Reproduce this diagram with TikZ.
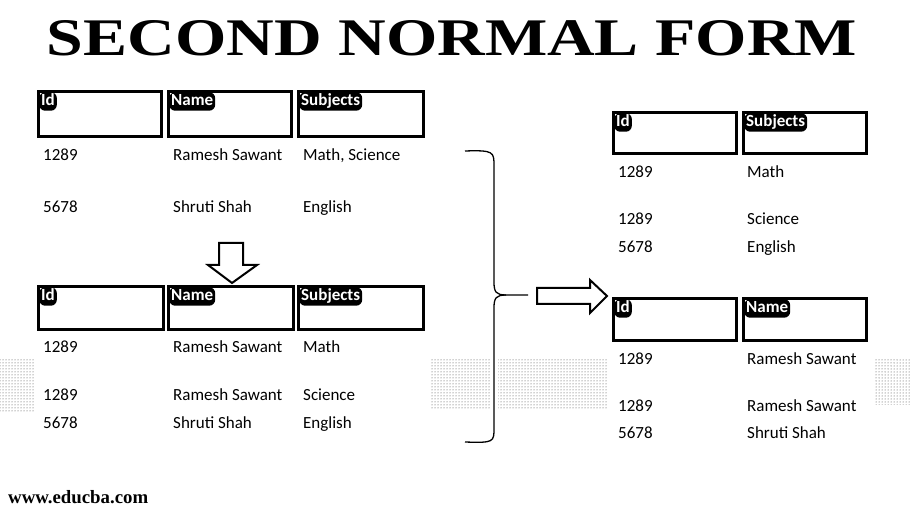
\documentclass[tikz,border=0pt]{standalone}
\usepackage{fontspec}
\setmainfont{Carlito}
\newfontfamily\titlefont{Liberation Serif}
\usetikzlibrary{patterns}
\tikzset{
  hbox/.style={draw=black, line width=3pt},
  hdr/.style={fill=black, text=white, rounded corners=6pt, inner xsep=2pt, inner ysep=2pt,
              text height=11pt, text depth=3.5pt, anchor=north west,
              font=\fontsize{17}{17}\selectfont\bfseries},
  cell/.style={anchor=base west, inner sep=0pt, font=\fontsize{17}{17}\selectfont},
  fat/.style={draw=black, line width=2pt, fill=white, line join=miter},
  dotpatch/.style={pattern=dots, pattern color=black!75}
}
\begin{document}
\begin{tikzpicture}[x=1pt,y=-1pt]
\useasboundingbox (0,0) rectangle (911,510);
\fill[white] (0,0) rectangle (911,510);
% dotted patches
\fill[dotpatch] (0,360) rectangle (35,412);
\fill[dotpatch] (430,360) rectangle (490,410);
\fill[dotpatch] (498,360) rectangle (607,410);
\fill[dotpatch] (874,360) rectangle (911,405);
% title
\node[inner sep=0pt] (title) at (452,38) {\titlefont\bfseries\resizebox{810pt}{35pt}{SECOND NORMAL FORM}};
% table 1
\draw[hbox] (38.5,91.5) rectangle (161.5,136.5);
\draw[hbox] (168.5,91.5) rectangle (291.5,136.5);
\draw[hbox] (298.5,91.5) rectangle (423.5,136.5);
\node[hdr] (t1h1) at (39,92) {Id};
\node[hdr] (t1h2) at (169,92) {Name};
\node[hdr] (t1h3) at (299,92) {Subjects};
\node[cell] (t1a1) at (43,160.5) {1289};
\node[cell] (t1a2) at (173,160.5) {Ramesh Sawant};
\node[cell] (t1a3) at (303,160.5) {Math, Science};
\node[cell] (t1b1) at (43,212.5) {5678};
\node[cell] (t1b2) at (173,212.5) {Shruti Shah};
\node[cell] (t1b3) at (303,212.5) {English};
% down arrow
\draw[fat] (219,243) -- (243,243) -- (243,265) -- (257,265) -- (232,283) -- (208,265) -- (219,265) -- cycle;
% table 2
\draw[hbox] (38.5,286.5) rectangle (163.5,329.5);
\draw[hbox] (168.5,286.5) rectangle (293.5,329.5);
\draw[hbox] (298.5,286.5) rectangle (423.5,329.5);
\node[hdr] (t2h1) at (39,287) {Id};
\node[hdr] (t2h2) at (169,287) {Name};
\node[hdr] (t2h3) at (299,287) {Subjects};
\node[cell] (t2a1) at (43,352.5) {1289};
\node[cell] (t2a2) at (173,352.5) {Ramesh Sawant};
\node[cell] (t2a3) at (303,352.5) {Math};
\node[cell] (t2b1) at (43,400.5) {1289};
\node[cell] (t2b2) at (173,400.5) {Ramesh Sawant};
\node[cell] (t2b3) at (303,400.5) {Science};
\node[cell] (t2c1) at (43,428.5) {5678};
\node[cell] (t2c2) at (173,428.5) {Shruti Shah};
\node[cell] (t2c3) at (303,428.5) {English};
% brace
\draw[line width=1.3pt] (465,151) .. controls (494,150) and (494,152) .. (494,166)
  -- (494,282) .. controls (494,292) and (496,295) .. (506,295) -- (528,295);
\draw[line width=1.3pt] (506,295) .. controls (496,295) and (494,298) .. (494,308)
  -- (494,428) .. controls (494,442) and (494,443) .. (465,442);
% right arrow
\draw[fat] (537,288) -- (590,288) -- (590,280) -- (607,296) -- (590,313) -- (590,304) -- (537,304) -- cycle;
% right table 1
\draw[hbox] (613.5,112.5) rectangle (736.5,153.5);
\draw[hbox] (743.5,112.5) rectangle (866.5,153.5);
\node[hdr] (r1h1) at (614,113) {Id};
\node[hdr] (r1h2) at (744,113) {Subjects};
\node[cell] (r1a1) at (618,177.5) {1289};
\node[cell] (r1a2) at (747,177.5) {Math};
\node[cell] (r1b1) at (618,224.5) {1289};
\node[cell] (r1b2) at (747,224.5) {Science};
\node[cell] (r1c1) at (618,252.5) {5678};
\node[cell] (r1c2) at (747,252.5) {English};
% right table 2
\draw[hbox] (613.5,298.5) rectangle (736.5,340.5);
\draw[hbox] (743.5,298.5) rectangle (866.5,340.5);
\node[hdr] (r2h1) at (614,299) {Id};
\node[hdr] (r2h2) at (744,299) {Name};
\node[cell] (r2a1) at (618,364.5) {1289};
\node[cell] (r2a2) at (747,364.5) {Ramesh Sawant};
\node[cell] (r2b1) at (618,411.5) {1289};
\node[cell] (r2b2) at (747,411.5) {Ramesh Sawant};
\node[cell] (r2c1) at (618,438.5) {5678};
\node[cell] (r2c2) at (747,438.5) {Shruti Shah};
% footer
\node[anchor=west, inner sep=0pt] (web) at (8,497) {\titlefont\bfseries\resizebox{140pt}{!}{www.educba.com}};
\end{tikzpicture}
\end{document}
